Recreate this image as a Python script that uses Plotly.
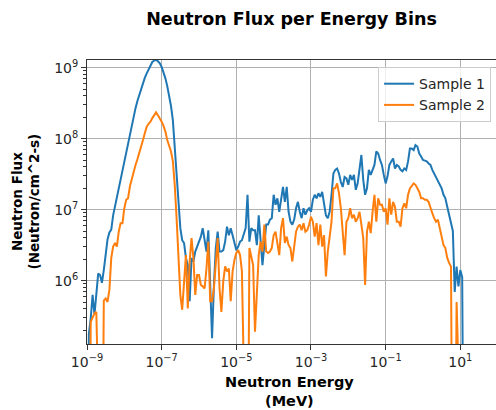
import plotly.graph_objects as go

# log10 of neutron energy (MeV) for each bin
log_energy = [
    -9.00, -8.95, -8.90, -8.85, -8.80, -8.75, -8.70, -8.65, -8.60, -8.55,
    -8.50, -8.45, -8.40, -8.35, -8.30, -8.25, -8.20, -8.15, -8.10, -8.05,
    -8.00, -7.95, -7.90, -7.85, -7.80, -7.75, -7.70, -7.65, -7.60, -7.55,
    -7.50, -7.45, -7.40, -7.35, -7.30, -7.25, -7.20, -7.15, -7.10, -7.05,
    -7.00, -6.95, -6.90, -6.85, -6.80, -6.75, -6.70, -6.65, -6.60, -6.55,
    -6.50, -6.45, -6.40, -6.35, -6.30, -6.25, -6.20, -6.15, -6.10, -6.05,
    -6.00, -5.95, -5.90, -5.85, -5.80, -5.75, -5.70, -5.65, -5.60, -5.55,
    -5.50, -5.45, -5.40, -5.35, -5.30, -5.25, -5.20, -5.15, -5.10, -5.05,
    -5.00, -4.95, -4.90, -4.85, -4.80, -4.75, -4.70, -4.65, -4.60, -4.55,
    -4.50, -4.45, -4.40, -4.35, -4.30, -4.25, -4.20, -4.15, -4.10, -4.05,
    -4.00, -3.95, -3.90, -3.85, -3.80, -3.75, -3.70, -3.65, -3.60, -3.55,
    -3.50, -3.45, -3.40, -3.35, -3.30, -3.25, -3.20, -3.15, -3.10, -3.05,
    -3.00, -2.95, -2.90, -2.85, -2.80, -2.75, -2.70, -2.65, -2.60, -2.55,
    -2.50, -2.45, -2.40, -2.35, -2.30, -2.25, -2.20, -2.15, -2.10, -2.05,
    -2.00, -1.95, -1.90, -1.85, -1.80, -1.75, -1.70, -1.65, -1.60, -1.55,
    -1.50, -1.45, -1.40, -1.35, -1.30, -1.25, -1.20, -1.15, -1.10, -1.05,
    -1.00, -0.95, -0.90, -0.85, -0.80, -0.75, -0.70, -0.65, -0.60, -0.55,
    -0.50, -0.45, -0.40, -0.35, -0.30, -0.25, -0.20, -0.15, -0.10, -0.05,
    0.00, 0.05, 0.10, 0.15, 0.20, 0.25, 0.30, 0.35, 0.40, 0.45,
    0.50, 0.55, 0.60, 0.65, 0.70, 0.75, 0.80, 0.85, 0.90, 0.95,
    1.00, 1.05, 1.10,
]

# log10 of flux (Neutron/cm^2-s); None = empty bin (zero flux)
log_flux_sample1 = [
    None, 5.25, 5.47, 5.80, 5.52, 5.85, 6.10, 6.08, 5.97, 6.15,
    6.40, 6.58, 6.68, 6.72, 6.92, 7.05, 7.16, 7.30, 7.44, 7.56,
    7.68, 7.82, 7.96, 8.09, 8.22, 8.33, 8.43, 8.53, 8.62, 8.70,
    8.78, 8.86, 8.92, 8.98, 9.04, 9.08, 9.10, 9.11, 9.09, 9.06,
    9.01, 8.94, 8.85, 8.74, 8.62, 8.46, 8.26, 7.89, 7.54, 7.18,
    6.74, 6.57, 6.53, 6.32, 6.22, 5.71, 6.32, 6.27, 6.41, 6.48,
    6.55, 6.62, 6.74, 6.60, 6.41, 6.71, 5.89, 5.19, 5.94, 6.46,
    6.69, 6.41, 6.41, 6.43, 6.55, 6.76, 6.64, 6.74, 6.64, 6.53,
    6.43, 6.48, 6.55, 6.57, 6.67, 6.74, 7.21, 6.55, 6.74, 6.71,
    6.71, 6.50, 6.92, 6.55, 6.22, 6.50, 6.79, 6.79, 6.86, 6.88,
    7.21, 7.07, 7.16, 6.97, 7.16, 7.32, 7.11, 7.32, 6.97, 6.83,
    6.79, 6.86, 7.02, 7.11, 6.97, 6.88, 7.02, 6.93, 6.99, 7.02,
    6.97, 7.14, 7.21, 7.16, 7.23, 7.18, 7.25, 7.11, 6.92, 6.88,
    6.97, 7.21, 7.51, 7.56, 7.58, 7.51, 7.39, 7.32, 7.46, 7.44,
    7.35, 7.49, 7.42, 7.49, 7.28, 7.37, 7.61, 7.77, 7.42, 7.21,
    7.30, 7.56, 7.49, 7.56, 7.63, 7.82, 7.79, 7.70, 7.63, 7.49,
    7.37, 7.47, 7.63, 7.68, 7.72, 7.58, 7.63, 7.61, 7.56, 7.54,
    7.58, 7.56, 7.68, 7.86, 7.86, 7.84, 7.91, 7.89, 7.79, 7.75,
    7.70, 7.69, 7.68, 7.65, 7.63, 7.56, 7.51, 7.47, 7.42, 7.37,
    7.30, 7.21, 7.16, 7.04, 6.93, 6.83, 6.70, 5.84, 6.20, 5.92,
    6.15, 6.05, None,
]

log_flux_sample2 = [
    None, None, 5.42, 5.47, 5.54, 5.56, None, None, None, 5.72,
    5.75, 5.70, 5.87, 6.32, 6.48, 6.53, 6.48, 6.69, 6.81, 6.81,
    7.02, 7.14, 7.16, 7.33, 7.44, 7.54, 7.63, 7.71, 7.79, 7.88,
    7.98, 8.08, 8.17, 8.21, 8.24, 8.29, 8.33, 8.37, 8.33, 8.29,
    8.24, 8.18, 8.10, 7.98, 7.90, 7.82, 7.68, 7.35, 6.88, 6.36,
    5.80, 5.59, 5.99, 6.36, 5.61, 6.27, 6.60, 6.32, 5.80, 6.08,
    6.08, 5.94, 5.92, 5.89, 6.17, 6.55, 5.71, 5.71, 5.89, 6.27,
    6.60, 5.89, 5.56, 5.99, 6.20, 6.13, 6.17, 5.71, 6.13, 6.29,
    6.39, 6.43, 6.36, 6.13, None, None, None, 6.46, 6.32, 6.22,
    5.28, 5.89, 6.36, 6.55, 6.41, 6.79, 6.41, 6.39, 6.41, 6.46,
    6.64, 6.69, 6.55, 6.36, 6.74, 6.88, 6.53, 6.62, 6.50, 6.46,
    6.27, 6.50, 6.69, 6.76, 6.79, 6.71, 6.81, 6.69, 6.71, 6.79,
    6.90, 6.83, 6.62, 6.81, 6.50, 6.79, 6.48, 6.64, 6.06, 6.41,
    6.62, 6.83, 7.30, 7.30, 7.37, 7.23, 7.02, 6.74, 6.36, 6.83,
    6.88, 7.02, 6.88, 6.93, 6.83, 6.88, 6.97, 6.79, 6.60, 5.94,
    6.69, 6.83, 6.67, 6.97, 7.21, 6.83, 7.16, 7.07, 7.07, 6.97,
    7.02, 6.79, 7.16, 6.93, 7.11, 7.04, 6.83, 6.83, 6.76, 7.02,
    7.09, 7.02, 7.21, 7.30, 7.33, 7.37, 7.35, 7.30, 7.25, 7.16,
    7.16, 7.14, 7.14, 7.11, 7.02, 6.95, 6.88, 6.83, 6.86, 6.74,
    6.64, 6.50, 6.46, 6.32, 6.25, 6.20, None, None, 5.70, None,
    None, None, None,
]

series_names = ["Sample 1", "Sample 2"]
series_colors = ["#1f77b4", "#ff7f0e"]

x_tick_values = [1e-9, 1e-7, 1e-5, 1e-3, 1e-1, 1e1]
x_tick_labels = ["10<sup>\u22129</sup>", "10<sup>\u22127</sup>", "10<sup>\u22125</sup>",
                 "10<sup>\u22123</sup>", "10<sup>\u22121</sup>", "10<sup>1</sup>"]
y_tick_values = [1e6, 1e7, 1e8, 1e9]
y_tick_labels = ["10<sup>6</sup>", "10<sup>7</sup>", "10<sup>8</sup>", "10<sup>9</sup>"]

energy = [10 ** v for v in log_energy]
FLOOR = 1e2  # empty bins drawn below the axis, like matplotlib's clipping


def to_flux(logs):
    return [10 ** v if v is not None else FLOOR for v in logs]


fig = go.Figure()
for name, logs, color in zip(series_names, [log_flux_sample1, log_flux_sample2], series_colors):
    fig.add_trace(go.Scatter(x=energy, y=to_flux(logs), mode="lines", name=name,
                             line=dict(color=color, width=2)))

FONT = "DejaVu Sans"
fig.update_layout(
    width=496, height=410,
    margin=dict(l=87, r=0, t=60, b=66),
    paper_bgcolor="white", plot_bgcolor="white",
    font=dict(family=FONT, size=14, color="#262626"),
    title=dict(text="<b>Neutron Flux per Energy Bins</b>", x=0.5, xref="paper", xanchor="center",
               y=1 - 19 / 410, yanchor="middle", font=dict(family=FONT, size=17.5, color="black")),
    showlegend=True,
    legend=dict(x=0.988, y=0.975, xanchor="right", yanchor="top",
                bgcolor="rgba(255,255,255,0.8)", bordercolor="#cccccc", borderwidth=1,
                font=dict(family=FONT, size=14, color="#262626"), tracegroupgap=0),
)
fig.update_xaxes(
    type="log", range=[-9, 1.956], tickmode="array", tickvals=x_tick_values, ticktext=x_tick_labels,
    tickfont=dict(family=FONT, size=14, color="#262626"),
    showgrid=True, gridcolor="#b0b0b0", gridwidth=1,
    showline=True, linecolor="#333333", linewidth=1, mirror=True,
    ticks="outside", ticklen=5, tickcolor="#333333", zeroline=False,
)
fig.update_yaxes(
    type="log", range=[5.108, 9.108], tickmode="array", tickvals=y_tick_values, ticktext=y_tick_labels,
    tickfont=dict(family=FONT, size=14, color="#262626"),
    showgrid=True, gridcolor="#b0b0b0", gridwidth=1,
    showline=True, linecolor="#333333", linewidth=1, mirror=True,
    ticks="outside", ticklen=5, tickcolor="#333333", zeroline=False,
    minor=dict(ticks="outside", ticklen=3, tickcolor="#333333", dtick="D1", showgrid=False),
)
fig.add_annotation(text="<b>Neutron Energy</b><br><b>(MeV)</b>", xref="paper", yref="paper",
                   x=(289 - 87) / 409, y=-(391.5 - 344) / 284, xanchor="center", yanchor="middle",
                   showarrow=False, font=dict(family=FONT, size=14.5, color="black"))
fig.add_annotation(text="<b>Neutron Flux</b><br><b>(Neutron/cm^2-s)</b>", xref="paper", yref="paper",
                   x=(25.5 - 87) / 409, y=0.5, xanchor="center", yanchor="middle", textangle=-90,
                   showarrow=False, font=dict(family=FONT, size=13.5, color="black"))

fig.write_html("out.html")
